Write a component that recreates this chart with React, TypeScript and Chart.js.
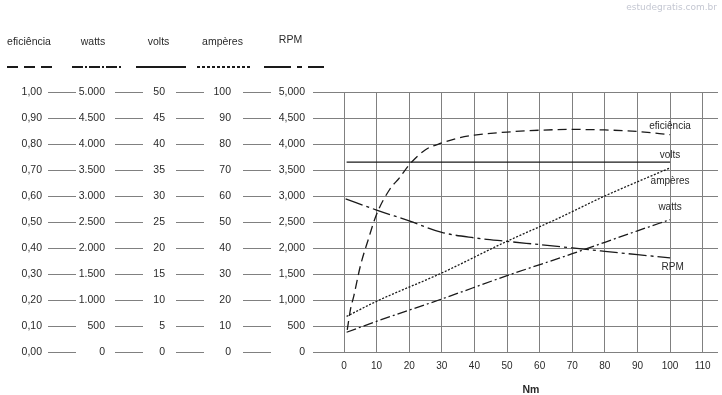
import React, { useEffect, useRef } from "react";
import { Chart, registerables } from "chart.js";

Chart.register(...registerables);

// ---------- data ----------
const seriesNames = ["eficiência", "watts", "volts", "ampères", "RPM"];

const effX = [1, 2, 3, 5, 7.5, 10, 14, 17, 20, 25, 30, 35, 40, 50, 60, 70, 80, 90, 100];
const effY = [0.085, 0.165, 0.215, 0.33, 0.435, 0.53, 0.625, 0.67, 0.72, 0.778, 0.804, 0.823, 0.834, 0.846, 0.853, 0.856, 0.854, 0.848, 0.836];

const wattsX = [0.8, 10, 30, 50, 70, 80, 90, 100];
const wattsY = [380, 590, 1020, 1468, 1890, 2110, 2330, 2546];

const voltsX = [0.8, 100];
const voltsY = [36.5, 36.5];

const ampX = [0.8, 10, 30, 50, 65, 80, 100];
const ampY = [13.7, 19.5, 30.4, 42.6, 51, 60, 70.8];

const rpmX = [0.5, 10, 20, 30, 40, 50, 60, 70, 80, 90, 100];
const rpmY = [2945, 2730, 2520, 2300, 2195, 2128, 2065, 2001, 1936, 1872, 1809];

// ---------- tick labels ----------
const nmTickLabels = ["0", "10", "20", "30", "40", "50", "60", "70", "80", "90", "100", "110"];
const effTickLabels = ["0,00", "0,10", "0,20", "0,30", "0,40", "0,50", "0,60", "0,70", "0,80", "0,90", "1,00"];
const wattsTickLabels = ["0", "500", "1.000", "1.500", "2.000", "2.500", "3.000", "3.500", "4.000", "4.500", "5.000"];
const voltsTickLabels = ["0", "5", "10", "15", "20", "25", "30", "35", "40", "45", "50"];
const ampTickLabels = ["0", "10", "20", "30", "40", "50", "60", "70", "80", "90", "100"];
const rpmTickLabels = ["0", "500", "1,000", "1,500", "2,000", "2,500", "3,000", "3,500", "4,000", "4,500", "5,000"];

const axisMax = { eff: 1, watts: 5000, volts: 50, amp: 100, rpm: 5000 };
const xTitle = "Nm";
const watermark = "estudegratis.com.br";

// end-of-line label anchors (x in Nm, y in each series' own unit)
const endLabelX = [100, 100, 100, 100, 100.8];
const endLabelY = [0.867, 2783, 37.8, 65.7, 1622];

// ---------- styles ----------
const GRID = "#808080";
const TEXT = "#2a2a2a";
const LINE = "#1a1a1a";
const FONT = "'Liberation Sans', Arial, Helvetica, sans-serif";

const plotDash = [[9, 5], [10, 3, 2, 3], [], [2, 1.6], [18, 4, 3, 4]];
const legendDash = [[11, 6], [11, 2, 2, 2], [], [3, 2], [27, 6, 5, 6]];
const axisIds = ["yEff", "yWatts", "yVolts", "yAmp", "yRpm"];

const layoutStyle = {
  headerX: [29, 93, 158.5, 222.5, 290.5],
  headerY: [42, 42, 42, 42, 40],
  sampleX0: [7, 72, 136, 197, 264],
  sampleX1: [52, 121, 186, 252, 324],
  sampleY: 67,
};

function pts(xs: number[], ys: number[]) {
  return xs.map((x, i) => ({ x, y: ys[i] }));
}

function leftAxis(
  weight: number,
  max: number,
  labels: string[],
  width: number,
  tickLength: number,
  pad: number,
  onArea: boolean
) {
  return {
    type: "linear",
    position: "left",
    weight,
    min: 0,
    max,
    afterFit: (s: any) => {
      s.width = width;
    },
    border: { display: false },
    grid: {
      drawOnChartArea: onArea,
      drawTicks: true,
      tickLength,
      color: GRID,
      lineWidth: 1,
    },
    ticks: {
      count: 11,
      padding: pad,
      color: TEXT,
      autoSkip: false,
      font: { family: FONT, size: 10.5 },
      callback: (_v: any, i: number) => labels[i] ?? "",
    },
  };
}

const decorPlugin = {
  id: "decor",
  afterDraw(chart: any) {
    const ctx = chart.ctx as CanvasRenderingContext2D;
    ctx.save();
    // column headers
    ctx.fillStyle = TEXT;
    ctx.font = `10.5px ${FONT}`;
    ctx.textAlign = "center";
    ctx.textBaseline = "middle";
    seriesNames.forEach((n, i) => {
      ctx.fillText(n, layoutStyle.headerX[i], layoutStyle.headerY[i]);
    });
    // legend line samples
    ctx.strokeStyle = LINE;
    ctx.lineWidth = 2;
    seriesNames.forEach((_n, i) => {
      ctx.setLineDash(legendDash[i]);
      ctx.beginPath();
      ctx.moveTo(layoutStyle.sampleX0[i], layoutStyle.sampleY);
      ctx.lineTo(layoutStyle.sampleX1[i], layoutStyle.sampleY);
      ctx.stroke();
    });
    ctx.setLineDash([]);
    // end-of-line labels
    const xs = chart.scales.x;
    ctx.font = `10px ${FONT}`;
    ctx.fillStyle = TEXT;
    seriesNames.forEach((n, i) => {
      const ys = chart.scales[axisIds[i]];
      ctx.fillText(n, xs.getPixelForValue(endLabelX[i]), ys.getPixelForValue(endLabelY[i]));
    });
    // watermark
    ctx.font = `9px 'DejaVu Sans', Verdana, sans-serif`;
    ctx.fillStyle = "#c4c7d2";
    ctx.textAlign = "right";
    ctx.fillText(watermark, 717, 8);
    ctx.restore();
  },
};

export default function App() {
  const ref = useRef<HTMLCanvasElement>(null);

  useEffect(() => {
    if (!ref.current) return;
    const mk = (i: number, data: any[]) => ({
      label: seriesNames[i],
      data,
      yAxisID: axisIds[i],
      borderColor: LINE,
      borderWidth: 1.3,
      borderDash: plotDash[i],
      pointRadius: 0,
      fill: false,
      cubicInterpolationMode: "monotone",
    });
    const chart = new Chart(ref.current, {
      type: "line",
      data: {
        datasets: [
          mk(0, pts(effX, effY)),
          mk(1, pts(wattsX, wattsY)),
          mk(2, pts(voltsX, voltsY)),
          mk(3, pts(ampX, ampY)),
          mk(4, pts(rpmX, rpmY)),
        ] as any,
      },
      options: {
        animation: false,
        responsive: false,
        layout: { padding: { top: 92, right: 4, bottom: 0, left: 0 } },
        plugins: { legend: { display: false }, tooltip: { enabled: false } },
        scales: {
          x: {
            type: "linear",
            min: 0,
            max: 114.7,
            afterFit: (s: any) => {
              s.height = 43;
            },
            border: { display: false },
            grid: { color: GRID, lineWidth: 1, drawTicks: false },
            ticks: {
              stepSize: 10,
              includeBounds: false,
              autoSkip: false,
              maxRotation: 0,
              padding: 8,
              color: TEXT,
              font: { family: FONT, size: 10 },
              callback: (_v: any, i: number) => nmTickLabels[i] ?? "",
            },
            title: {
              display: true,
              text: xTitle,
              color: TEXT,
              padding: { top: 0, bottom: 0 },
              font: { family: FONT, size: 10.5, weight: "bold", lineHeight: 1 },
            },
          },
          yEff: leftAxis(4, axisMax.eff, effTickLabels, 76, 28, 6, false),
          yWatts: leftAxis(3, axisMax.watts, wattsTickLabels, 67, 28, 10, false),
          yVolts: leftAxis(2, axisMax.volts, voltsTickLabels, 61, 28, 11, false),
          yAmp: leftAxis(1, axisMax.amp, ampTickLabels, 67, 28, 12, false),
          yRpm: leftAxis(0, axisMax.rpm, rpmTickLabels, 73, 31, 8, true),
        } as any,
      },
      plugins: [decorPlugin],
    });
    return () => chart.destroy();
  }, []);

  return (
    <div style={{ position: "absolute", left: 0, top: 0, width: 722, height: 395, background: "#fff" }}>
      <canvas ref={ref} width={722} height={395} style={{ display: "block" }} />
    </div>
  );
}
